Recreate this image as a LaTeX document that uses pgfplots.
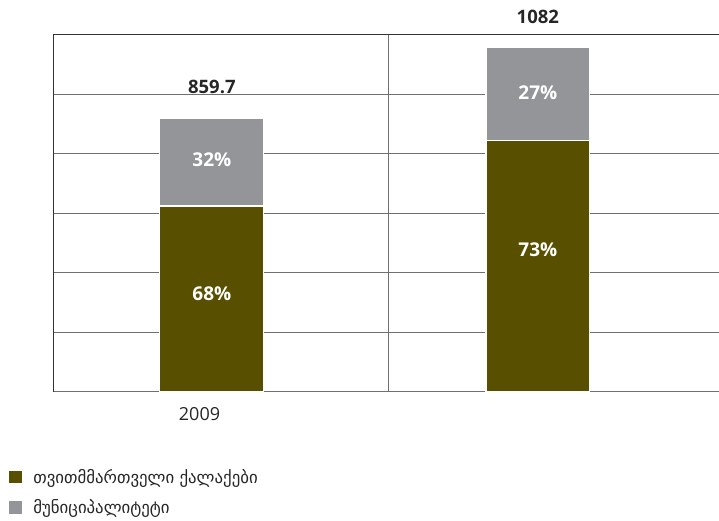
\documentclass[border=0pt]{standalone}
\usepackage{pgfplots}
\pgfplotsset{compat=1.18}
\usepackage{fontspec}
\setmainfont{Open Sans}
\newfontfamily\geo{DejaVu Sans}
\definecolor{olive}{HTML}{585000}
\definecolor{midgray}{HTML}{939598}
\definecolor{gridc}{HTML}{707070}
\begin{document}
\begin{tikzpicture}
\useasboundingbox (-53pt,-129pt) rectangle (666pt,392pt);
\begin{axis}[
  scale only axis,
  width=666pt, height=357pt,
  xmin=0, xmax=2, ymin=0, ymax=1122,
  ybar stacked,
  bar width=0.312,
  axis x line*=bottom,
  axis y line*=left,
  x axis line style={draw=gridc, line width=1pt},
  y axis line style={draw=black!80, line width=1pt},
  ytick={0,187,374,561,748,935,1122},
  yticklabels={},
  major tick length=0pt,
  ymajorgrids,
  grid style={draw=gridc, line width=1pt},
  xtick={0.44},
  xticklabels={2009},
  xticklabel style={font=\fontsize{18}{20}\selectfont, text=black!85, yshift=-12pt},
  clip=false,
  legend cell align=left,
  legend style={at={(-45pt,-75pt)}, anchor=north west, draw=none, fill=none,
    font=\geo\fontsize{16.8}{18}\selectfont, row sep=11pt, inner sep=0pt, nodes={inner sep=2pt, text=black!85}},
  legend image code/.code={\fill[#1] (0pt,-7pt) rectangle (14pt,7pt);},
]
\addplot[fill=olive, draw=white, line width=1.2pt] coordinates {(0.477,584.6) (1.456,789.9)};
\addplot[fill=midgray, draw=white, line width=1.2pt] coordinates {(0.477,275.1) (1.456,292.1)};
\legend{\hspace{8pt}თვითმმართველი ქალაქები, \hspace{8pt}მუნიციპალიტეტი}
\draw[draw=gridc, line width=1pt] (axis cs:1.006,0) -- (axis cs:1.006,1122);
\draw[draw=black!80, line width=1pt] (axis cs:0,1122) -- (axis cs:2,1122);
\coordinate (t1) at (axis cs:0.477,959);
\coordinate (t2) at (axis cs:1.456,1179);
\coordinate (p1) at (axis cs:0.477,729);
\coordinate (p2) at (axis cs:0.477,308);
\coordinate (p3) at (axis cs:1.456,940);
\coordinate (p4) at (axis cs:1.456,446);
\end{axis}
\node[font=\bfseries\fontsize{18.5}{20}\selectfont, text=black!85] at (t1) {859.7};
\node[font=\bfseries\fontsize{18.5}{20}\selectfont, text=black!85] at (t2) {1082};
\node[font=\bfseries\fontsize{19}{20}\selectfont, text=white] at (p1) {32\%};
\node[font=\bfseries\fontsize{19}{20}\selectfont, text=white] at (p2) {68\%};
\node[font=\bfseries\fontsize{19}{20}\selectfont, text=white] at (p3) {27\%};
\node[font=\bfseries\fontsize{19}{20}\selectfont, text=white] at (p4) {73\%};
\end{tikzpicture}
\end{document}
